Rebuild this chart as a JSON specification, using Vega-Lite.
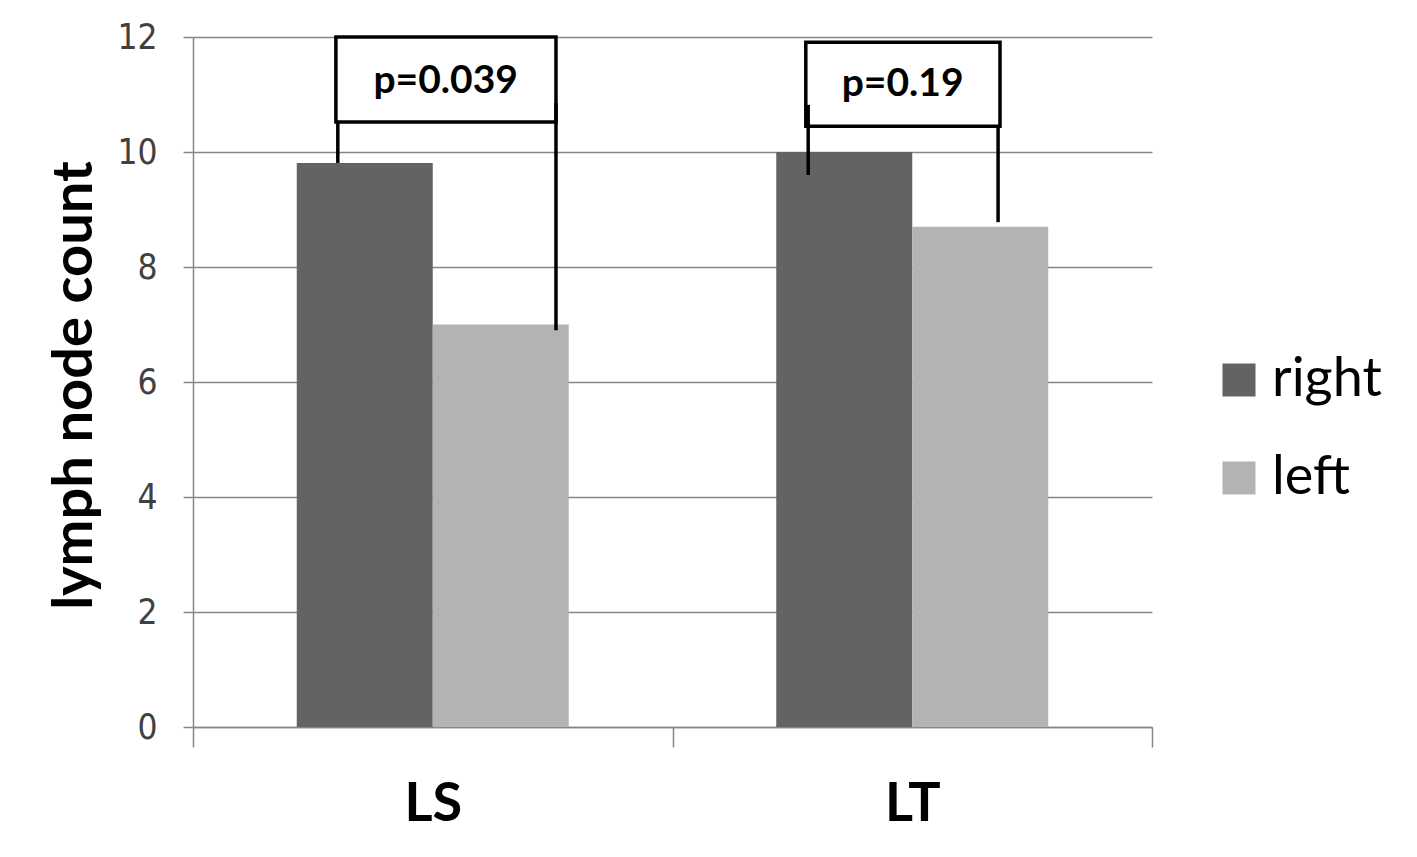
{
  "$schema": "https://vega.github.io/schema/vega-lite/v6.json",
  "width": 959,
  "height": 690,
  "autosize": "none",
  "padding": {"left": 193, "top": 37, "right": 265, "bottom": 130},
  "background": "white",
  "config": {
    "view": {"stroke": null},
    "axis": {"domainColor": "#868686", "tickColor": "#868686", "gridColor": "#868686", "domainWidth": 1.5, "tickWidth": 1.5, "gridWidth": 1.5}
  },
  "layer": [
    {
      "data": {"values": [
        {"site": "LS", "side": "right", "count": 9.81},
        {"site": "LS", "side": "left", "count": 7.0},
        {"site": "LT", "side": "right", "count": 10.0},
        {"site": "LT", "side": "left", "count": 8.7}
      ]},
      "mark": {"type": "bar"},
      "encoding": {
        "x": {"field": "site", "type": "nominal", "sort": ["LS", "LT"],
          "scale": {"paddingInner": 0, "paddingOuter": 0},
          "axis": {"title": null, "labelAngle": 0, "tickBand": "extent", "tickSize": 20, "grid": false,
            "labelFont": "Lato", "labelFontWeight": "bold", "labelFontSize": 54, "labelColor": "#000000", "labelPadding": 30}},
        "xOffset": {"field": "side", "type": "nominal", "sort": ["right", "left"],
          "scale": {"paddingInner": 0, "paddingOuter": 0.763}},
        "y": {"field": "count", "type": "quantitative",
          "scale": {"domain": [0, 12], "nice": false},
          "axis": {"values": [0, 2, 4, 6, 8, 10, 12], "format": "d", "tickSize": 10, "labelPadding": 26, "grid": true,
            "labelFont": "DejaVu Sans Condensed", "labelFontSize": 35, "labelColor": "#404040",
            "title": "lymph node count", "titleFont": "Lato", "titleFontWeight": "bold", "titleFontSize": 56, "titleColor": "#000000",
            "titleAngle": -90, "titleX": -102, "titleY": 348, "titleAlign": "center", "titleBaseline": "alphabetic"}},
        "color": {"field": "side", "type": "nominal",
          "scale": {"domain": ["right", "left"], "range": ["#636363", "#b3b3b3"]},
          "legend": {"title": null, "orient": "none", "legendX": 1019, "legendY": 316,
            "symbolType": "square", "symbolSize": 1089, "symbolStrokeWidth": 0,
            "labelFont": "Lato", "labelFontSize": 54, "labelColor": "#000000", "labelOffset": 6, "rowPadding": 44}}
      }
    },
    {
      "data": {"values": [
        {"site": "LS", "x1": 0.298, "x2": 0.757, "top": 12.0, "bottom": 10.52},
        {"site": "LT", "x1": 1.278, "x2": 1.683, "top": 11.91, "bottom": 10.45}
      ]},
      "mark": {"type": "rect", "fill": "white", "stroke": "black", "strokeWidth": 3.5},
      "encoding": {
        "x": {"field": "x1", "type": "quantitative", "scale": {"domain": [0, 2], "nice": false, "zero": false}, "axis": null},
        "x2": {"field": "x2"},
        "y": {"field": "top", "type": "quantitative"},
        "y2": {"field": "bottom"}
      }
    },
    {
      "data": {"values": [
        {"pos": 0.302, "from": 10.52, "to": 9.81},
        {"pos": 0.757, "from": 10.85, "to": 6.9},
        {"pos": 1.283, "from": 10.82, "to": 9.6},
        {"pos": 1.679, "from": 10.45, "to": 8.78}
      ]},
      "mark": {"type": "rule", "color": "black", "strokeWidth": 3.5},
      "encoding": {
        "x": {"field": "pos", "type": "quantitative", "scale": {"domain": [0, 2], "nice": false, "zero": false}, "axis": null},
        "y": {"field": "from", "type": "quantitative"},
        "y2": {"field": "to"}
      }
    },
    {
      "data": {"values": [
        {"pos": 0.527, "level": 11.23, "label": "p=0.039"},
        {"pos": 1.48, "level": 11.18, "label": "p=0.19"}
      ]},
      "mark": {"type": "text", "font": "Lato", "fontWeight": "bold", "fontSize": 39, "color": "#000000", "baseline": "middle", "align": "center"},
      "encoding": {
        "x": {"field": "pos", "type": "quantitative", "scale": {"domain": [0, 2], "nice": false, "zero": false}, "axis": null},
        "y": {"field": "level", "type": "quantitative"},
        "text": {"field": "label"}
      }
    }
  ],
  "resolve": {"scale": {"x": "independent"}}
}
